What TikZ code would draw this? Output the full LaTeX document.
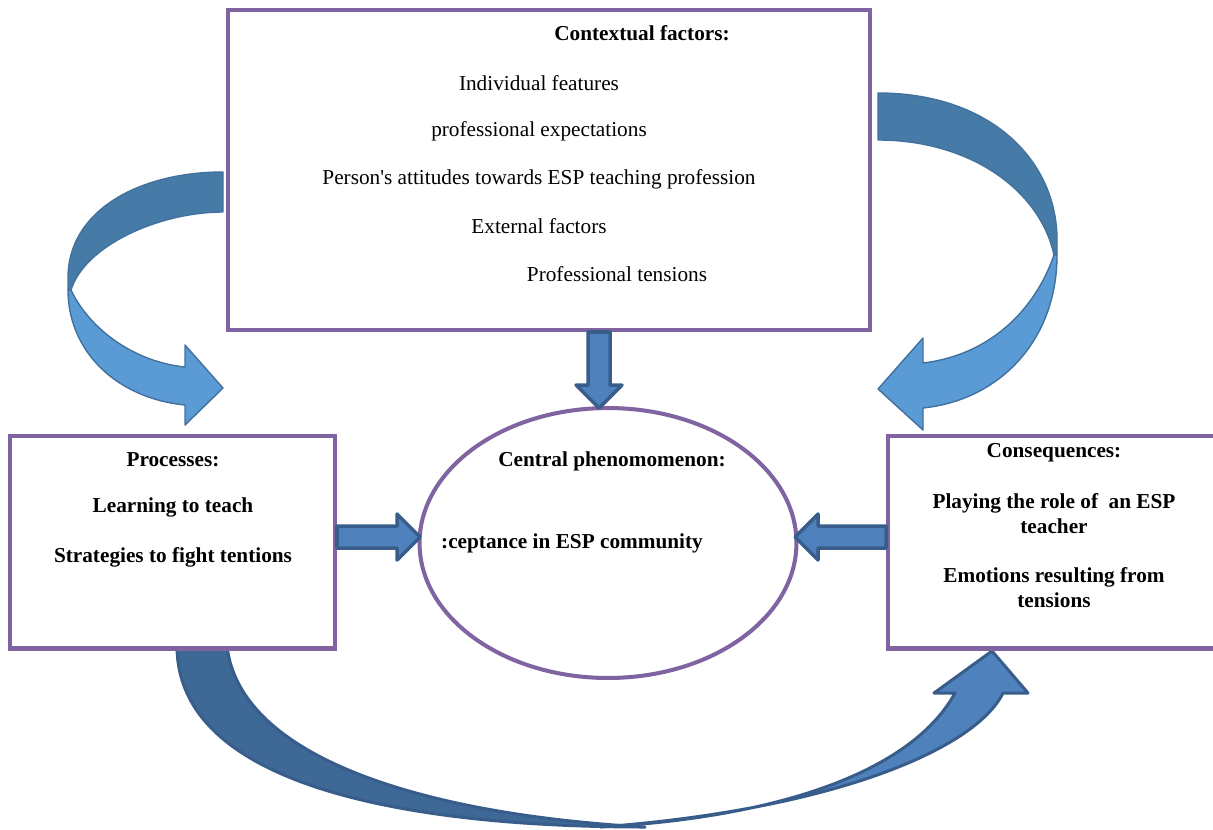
\documentclass[tikz,border=0pt]{standalone}
\usepackage{fontspec}
\setmainfont{Liberation Serif}
\usetikzlibrary{shapes.geometric,calc}
\definecolor{boxpurple}{RGB}{128,100,162}
\definecolor{arrowblue}{RGB}{79,129,189}
\definecolor{arrowedge}{RGB}{56,93,138}
\definecolor{ribbondark}{RGB}{70,123,168}
\definecolor{ribbonlight}{RGB}{91,155,213}
\definecolor{ribbonedge}{RGB}{65,113,156}
\definecolor{bottomdark}{RGB}{62,104,150}

\tikzset{
  factorbox/.style={draw=boxpurple, line width=2.3pt, fill=white, inner sep=0pt},
  phenomenon/.style={ellipse, draw=boxpurple, line width=2.3pt, fill=white, inner sep=0pt},
  boxtext/.style={font=\fontsize{12.1}{14.2}\selectfont, align=center, inner sep=0pt},
  boxhead/.style={font=\fontsize{12.1}{14.2}\selectfont\bfseries, align=center, inner sep=0pt},
  blockarr/.style={fill=arrowblue, draw=arrowedge, line width=2pt, line join=round},
  ribbon/.style={draw=ribbonedge, line width=0.8pt, line join=round},
}

% straight block arrow from #1 to #2
\newcommand{\blockarrow}[2]{%
  \coordinate (ba) at ($(#2)!0.46cm!(#1)$);
  \draw[blockarr] ($(#1)!0.22cm!90:(#2)$) -- ($(ba)!0.22cm!90:(#2)$)
    -- ($(ba)!0.46cm!90:(#2)$) -- (#2) -- ($(ba)!0.46cm!-90:(#2)$)
    -- ($(ba)!0.22cm!-90:(#2)$) -- ($(#1)!0.22cm!-90:(#2)$) -- cycle;}

\begin{document}
\begin{tikzpicture}[x=0.02cm, y=-0.02cm]
\useasboundingbox (0,0) rectangle (1213,829);

% curved arrows
\fill[ribbonlight, ribbon] (71,290) .. controls (90,330) and (135,362) .. (185,367) -- (185,345) -- (223,388) -- (185,425) -- (185,405) .. controls (115,398) and (68,350) .. (68,290) -- cycle;
\fill[ribbondark, ribbon] (223,172) .. controls (140,172) and (68,210) .. (68,278) -- (68,290) -- (71,290) .. controls (85,245) and (160,212) .. (223,212) -- cycle;

\fill[ribbonlight, ribbon] (1054,255) .. controls (1035,310) and (990,355) .. (923,363) -- (923,338) -- (878,389) -- (923,430) -- (923,408) .. controls (1000,400) and (1057,340) .. (1057,255) -- cycle;
\fill[ribbondark, ribbon] (878,93) .. controls (990,93) and (1057,160) .. (1057,240) -- (1057,255) -- (1054,255) .. controls (1040,190) and (970,140) .. (878,140) -- cycle;

\fill[arrowblue, draw=arrowedge, line width=1.7pt, line join=round] (1003,693) .. controls (975,750) and (830,810) .. (600,827) .. controls (770,818) and (910,775) .. (955,693) -- (934,693) -- (992,651) -- (1028,693) -- cycle;
\fill[bottomdark, draw=arrowedge, line width=1.7pt, line join=round] (177,646) .. controls (177,790) and (420,827) .. (645,827) .. controls (430,815) and (240,760) .. (227,646) -- cycle;

% boxes
\node[factorbox, minimum width=12.84cm, minimum height=6.4cm] (ctx) at (549,170) {};
\node[factorbox, minimum width=6.5cm, minimum height=4.26cm] (proc) at (172.5,542) {};
\node[factorbox, minimum width=6.6cm, minimum height=4.26cm] (cons) at (1053,542) {};
\node[phenomenon, minimum width=7.54cm, minimum height=5.4cm] (cen) at (608,543) {};

% straight arrows
\coordinate (tipD) at (599,408);
\coordinate (tipL) at (420,537);
\coordinate (tipR) at (795,537);
\blockarrow{ctx.south -| tipD}{tipD}
\blockarrow{proc.east |- tipL}{tipL}
\blockarrow{cons.west |- tipR}{tipR}

% texts
\node[boxhead] (ctxhead) at (642,33) {Contextual factors:};
\node[boxtext] (ctxa) at (539,83) {Individual features};
\node[boxtext] (ctxb) at (539,131) {professional expectations};
\node[boxtext] (ctxc) at (539,179) {Person\textquotesingle s attitudes towards ESP teaching profession};
\node[boxtext] (ctxd) at (539,226) {External factors};
\node[boxtext] (ctxe) at (617,274) {Professional tensions};

\node[boxhead] (prochead) at (173,460) {Processes:};
\node[boxhead] (proca) at (173,507) {Learning to teach};
\node[boxhead] (procb) at (173,557) {Strategies to fight tentions};

\node[boxhead] (cenhead) at (612,461) {Central phenomomenon:};
\node[boxhead] (cena) at (572,543) {:ceptance in ESP community};

\node[boxhead] (conshead) at (1054,453) {Consequences:};
\node[boxhead] (consa) at (1054,514) {Playing the role of\ \ an ESP\\teacher};
\node[boxhead] (consb) at (1054,588) {Emotions resulting from\\tensions};
\end{tikzpicture}
\end{document}
